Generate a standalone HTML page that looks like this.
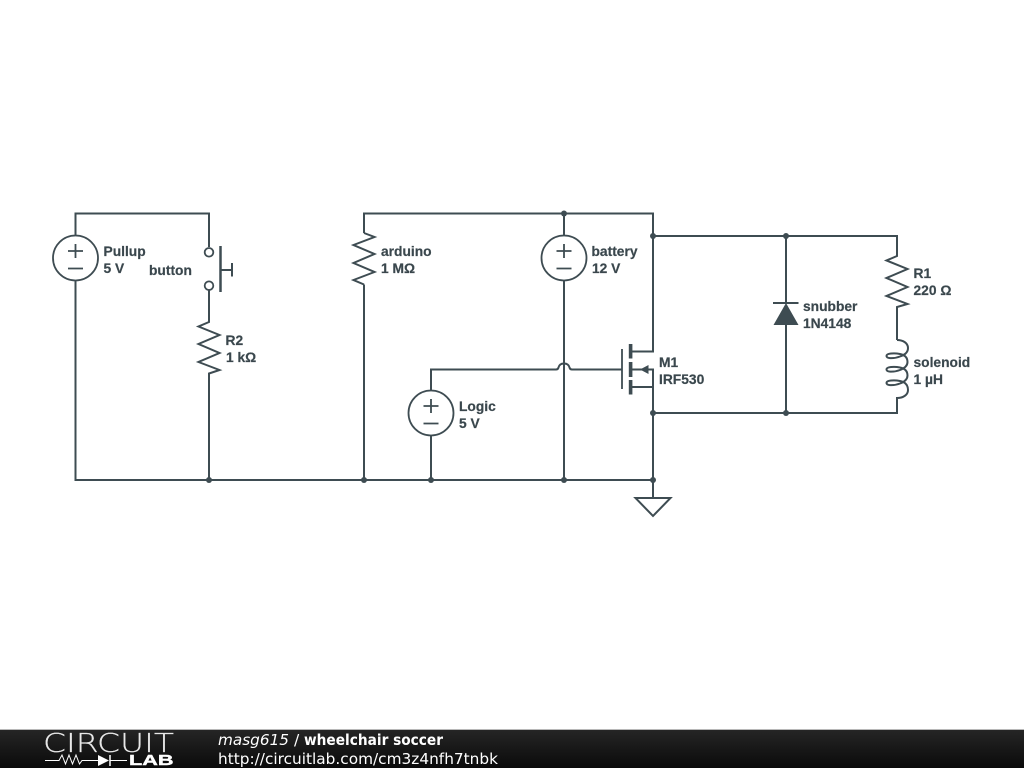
<!DOCTYPE html>
<html><head><meta charset="utf-8"><style>
html,body{margin:0;padding:0;background:#fff}
svg{display:block}
.t{font:bold 13.8px "Liberation Sans",sans-serif;fill:#3a474d;stroke:#3a474d;stroke-width:.2}
.f{font-family:"DejaVu Sans",sans-serif;fill:#fff;font-size:15.5px}
</style></head><body>
<svg width="1024" height="768" viewBox="0 0 1024 768" xmlns="http://www.w3.org/2000/svg">
<defs><linearGradient id="g" x1="0" y1="0" x2="0" y2="1"><stop offset="0" stop-color="#262626"/><stop offset="1" stop-color="#0a0a0a"/></linearGradient></defs>
<g fill="none" stroke="#3e4c52" stroke-width="2">
<path d="M75.5 235.5V213.5H209V247M209 290.500V322L198.500 326.500L219.500 335L198.500 344L219.500 353L198.500 362L219.500 370L209 373.500V480M75.500 280.500V480H653"/>
<path d="M364 233V213.500H653V351.500H631M564 213.500V235.500M564 280.500V480M364 284.500L353.500 280L374.500 272L353.500 263L374.500 254L353.500 245L374.500 237L364 233M364 284.500V480"/>
<path d="M431 391V369.500H556Q558 369.500 558.500 367.500Q559.500 363.500 564 363.500Q568.500 363.500 569.500 367.500Q570 369.500 572 369.500H622M431 435.500V480"/>
<path d="M631 369.500H653V480M631 387H653M653 480V498M635.500 498H670.500L653 516Z"/>
<path d="M653 236H897V256L886.500 260.500L907.500 269L886.500 278L907.500 287L886.500 296L907.500 304L897 307V340"/>
<path d="M897 340C903 340 908 343 908 348C908 353 904 355 900 356.500C895 358.500 886.500 359 886.500 356C886.500 353 895 353 900 354C905 355 907.500 358 907.500 362C907.500 366 904 368.500 900 370C895 372 886.500 372.500 886.500 369.500C886.500 366.500 895 366.500 900 367.500C905 368.500 907.500 371.500 907.500 375.500C907.500 379.500 904 382 900 383.500C895 385.500 886.500 386 886.500 383C886.500 380 895 380 900 381C905 382 908 385 908 390C908 395 903 398 897 398V413H653"/>
<path d="M786 236V303M786 325V413M773 303H798.500"/>
<path d="M221 270H232M232 263V276.500"/>
</g>
<g fill="none" stroke="#3e4c52" stroke-width="1.800">
<circle cx="75.500" cy="258" r="22.500"/><circle cx="564" cy="258" r="22.500"/><circle cx="431" cy="413" r="22.500"/>
<circle cx="209" cy="252.300" r="4.300"/><circle cx="209" cy="285.700" r="4.300"/>
<path d="M68 251H83M75.500 244V258M68 268.500H83M556.500 251H571.500M564 244V258M556.500 268.500H571.500M423.500 406H438.500M431 399V413M423.500 423.500H438.500"/>
<path d="M622 349V389"/>
</g>
<path d="M220.500 246V292" stroke="#3e4c52" stroke-width="2.500"/>
<g fill="#3e4c52">
<rect x="628.800" y="344" width="3.600" height="14.500"/><rect x="628.800" y="362" width="3.600" height="15"/><rect x="628.800" y="380" width="3.600" height="14.500"/>
<path d="M640 369.500L648.500 365V374ZM786 303L798.500 325H773.500Z"/>
<circle cx="209" cy="480" r="3"/><circle cx="364" cy="480" r="3"/><circle cx="431" cy="480" r="3"/><circle cx="564" cy="480" r="3"/><circle cx="653" cy="480" r="3"/><circle cx="653" cy="413" r="3"/><circle cx="564" cy="213.500" r="3"/><circle cx="653" cy="236" r="3"/><circle cx="786" cy="236" r="3"/><circle cx="786" cy="413" r="3"/>
</g>
<g>
<text class="t" x="103.500" y="256">Pullup</text><text class="t" x="103.500" y="273">5 V</text>
<text class="t" x="149" y="275">button</text>
<text class="t" x="225.500" y="345">R2</text><text class="t" x="226" y="362">1 kΩ</text>
<text class="t" x="381" y="256">arduino</text><text class="t" x="381" y="273">1 MΩ</text>
<text class="t" x="591.500" y="256">battery</text><text class="t" x="592" y="273">12 V</text>
<text class="t" x="459" y="411">Logic</text><text class="t" x="459" y="428">5 V</text>
<text class="t" x="659" y="367">M1</text><text class="t" x="659" y="384">IRF530</text>
<text class="t" x="803" y="311">snubber</text><text class="t" x="803" y="328">1N4148</text>
<text class="t" x="913.500" y="278">R1</text><text class="t" x="913.500" y="295">220 Ω</text>
<text class="t" x="913.500" y="367">solenoid</text><text class="t" x="913.500" y="384">1 µH</text>
</g>
<rect x="0" y="729" width="1024" height="39" fill="url(#g)"/>
<rect x="0" y="729" width="1024" height="1" fill="#b8b8b8"/>
<text x="43" y="752" font-family="DejaVu Sans,sans-serif" font-weight="200" font-size="26" fill="#e8e8e8" stroke="#e8e8e8" stroke-width=".2" textLength="131" lengthAdjust="spacingAndGlyphs">CIRCUIT</text>
<text x="129" y="765" font-family="Liberation Sans,sans-serif" font-weight="bold" font-size="14.500" fill="#fff" stroke="#fff" stroke-width=".4" textLength="44.500" lengthAdjust="spacingAndGlyphs">LAB</text>
<path d="M45 760.500H59L62 755L65.500 764L69 755L72.500 764L76 755L79.500 764L82 760.500H98M110 760.500H127" fill="none" stroke="#fff" stroke-width="1"/>
<path d="M98 755V766L109 760.500Z" fill="#fff"/><path d="M110 755V766" stroke="#fff" stroke-width="1.500"/>
<text class="f" x="218" y="745" font-style="oblique" textLength="71" lengthAdjust="spacingAndGlyphs">masg615</text>
<text class="f" x="294" y="745">/</text>
<text class="f" x="304" y="745" font-weight="bold" textLength="139" lengthAdjust="spacingAndGlyphs">wheelchair soccer</text>
<text class="f" x="218" y="764" textLength="280" lengthAdjust="spacingAndGlyphs">http://circuitlab.com/cm3z4nfh7tnbk</text>
</svg>
</body></html>
